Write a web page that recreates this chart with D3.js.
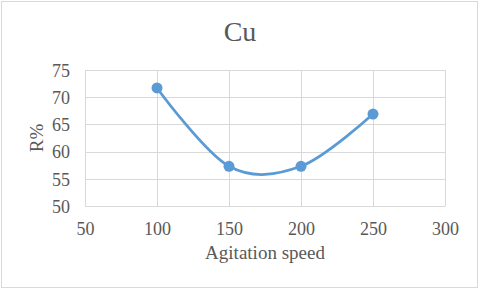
<!DOCTYPE html>
<html>
<head>
<meta charset="utf-8">
<script src="https://cdn.jsdelivr.net/npm/d3@7"></script>
<style>
  html, body { margin: 0; padding: 0; background: #fff; }
  svg { display: block; }
  svg text { font-family: "Liberation Serif", "Times New Roman", serif; }
</style>
</head>
<body>
<svg id="chart" width="480" height="289"></svg>
<script>
// Data
const speeds = [100, 150, 200, 250];
const recovery = [71.7, 57.3, 57.3, 66.9];
const xTicks = [50, 100, 150, 200, 250, 300];
const yTicks = [50, 55, 60, 65, 70, 75];

const width = 480, height = 289;
const padding = { left: 85, right: 35, top: 70, bottom: 83 };
const chartWidth = width - padding.left - padding.right;
const chartHeight = height - padding.top - padding.bottom;

const colors = { line: '#5B9BD5', grid: '#D9D9D9', text: '#595959', border: '#D9D9D9' };
const font = '"Liberation Serif", "Times New Roman", serif';

const svg = d3.select('#chart');

// Outer chart border
svg.append('rect')
  .attr('x', 1.5).attr('y', 1.5)
  .attr('width', width - 4).attr('height', height - 3)
  .attr('fill', '#fff')
  .attr('stroke', colors.border)
  .attr('stroke-width', 1);

const xScale = d3.scaleLinear().domain([50, 300]).range([0, chartWidth]);
const yScale = d3.scaleLinear().domain([50, 75]).range([chartHeight, 0]);

const content = svg.append('g')
  .attr('transform', `translate(${padding.left}, ${padding.top})`);

// Grid lines
const grid = content.append('g').attr('class', 'grid');
grid.selectAll('line.h')
  .data(yTicks)
  .join('line')
  .attr('class', 'h')
  .attr('x1', 0).attr('x2', chartWidth)
  .attr('y1', d => Math.round(yScale(d)) + 0.5)
  .attr('y2', d => Math.round(yScale(d)) + 0.5)
  .attr('stroke', colors.grid)
  .attr('stroke-width', 1);
grid.selectAll('line.v')
  .data(xTicks)
  .join('line')
  .attr('class', 'v')
  .attr('x1', d => Math.round(xScale(d)) + 0.5)
  .attr('x2', d => Math.round(xScale(d)) + 0.5)
  .attr('y1', 0).attr('y2', chartHeight)
  .attr('stroke', colors.grid)
  .attr('stroke-width', 1);

// Axes
const xAxis = d3.axisBottom(xScale).tickValues(xTicks).tickSize(0).tickPadding(16);
const yAxis = d3.axisLeft(yScale).tickValues(yTicks).tickSize(0).tickPadding(15);

const xAxisGroup = content.append('g')
  .attr('transform', `translate(0, ${chartHeight})`)
  .call(xAxis);
const yAxisGroup = content.append('g').call(yAxis);

[xAxisGroup, yAxisGroup].forEach(g => {
  g.attr('font-family', font).attr('font-size', 18);
  g.select('.domain').attr('stroke', colors.grid);
  g.selectAll('text')
    .attr('fill', colors.text)
    .style('font-size', '18px')
    .style('font-family', font);
});
yAxisGroup.selectAll('text').attr('dy', '0.35em');

// Line (smoothed like Excel)
const line = d3.line()
  .x((d, i) => xScale(speeds[i]))
  .y(d => yScale(d))
  .curve(d3.curveCardinal.tension(0));

content.append('path')
  .datum(recovery)
  .attr('d', line)
  .attr('fill', 'none')
  .attr('stroke', colors.line)
  .attr('stroke-width', 2.75)
  .attr('stroke-linecap', 'round');

content.selectAll('circle.marker')
  .data(recovery)
  .join('circle')
  .attr('class', 'marker')
  .attr('cx', (d, i) => xScale(speeds[i]))
  .attr('cy', d => yScale(d))
  .attr('r', 5.5)
  .attr('fill', colors.line);

// Titles
svg.append('text')
  .attr('x', 240).attr('y', 41)
  .attr('text-anchor', 'middle')
  .attr('fill', colors.text)
  .style('font-size', '28px')
  .text('Cu');

svg.append('text')
  .attr('x', padding.left + chartWidth / 2).attr('y', 259)
  .attr('text-anchor', 'middle')
  .attr('fill', colors.text)
  .style('font-size', '19px')
  .text('Agitation speed');

svg.append('text')
  .attr('transform', `translate(43, ${padding.top + chartHeight / 2}) rotate(-90)`)
  .attr('text-anchor', 'middle')
  .attr('fill', colors.text)
  .style('font-size', '19px')
  .text('R%');
</script>
</body>
</html>
